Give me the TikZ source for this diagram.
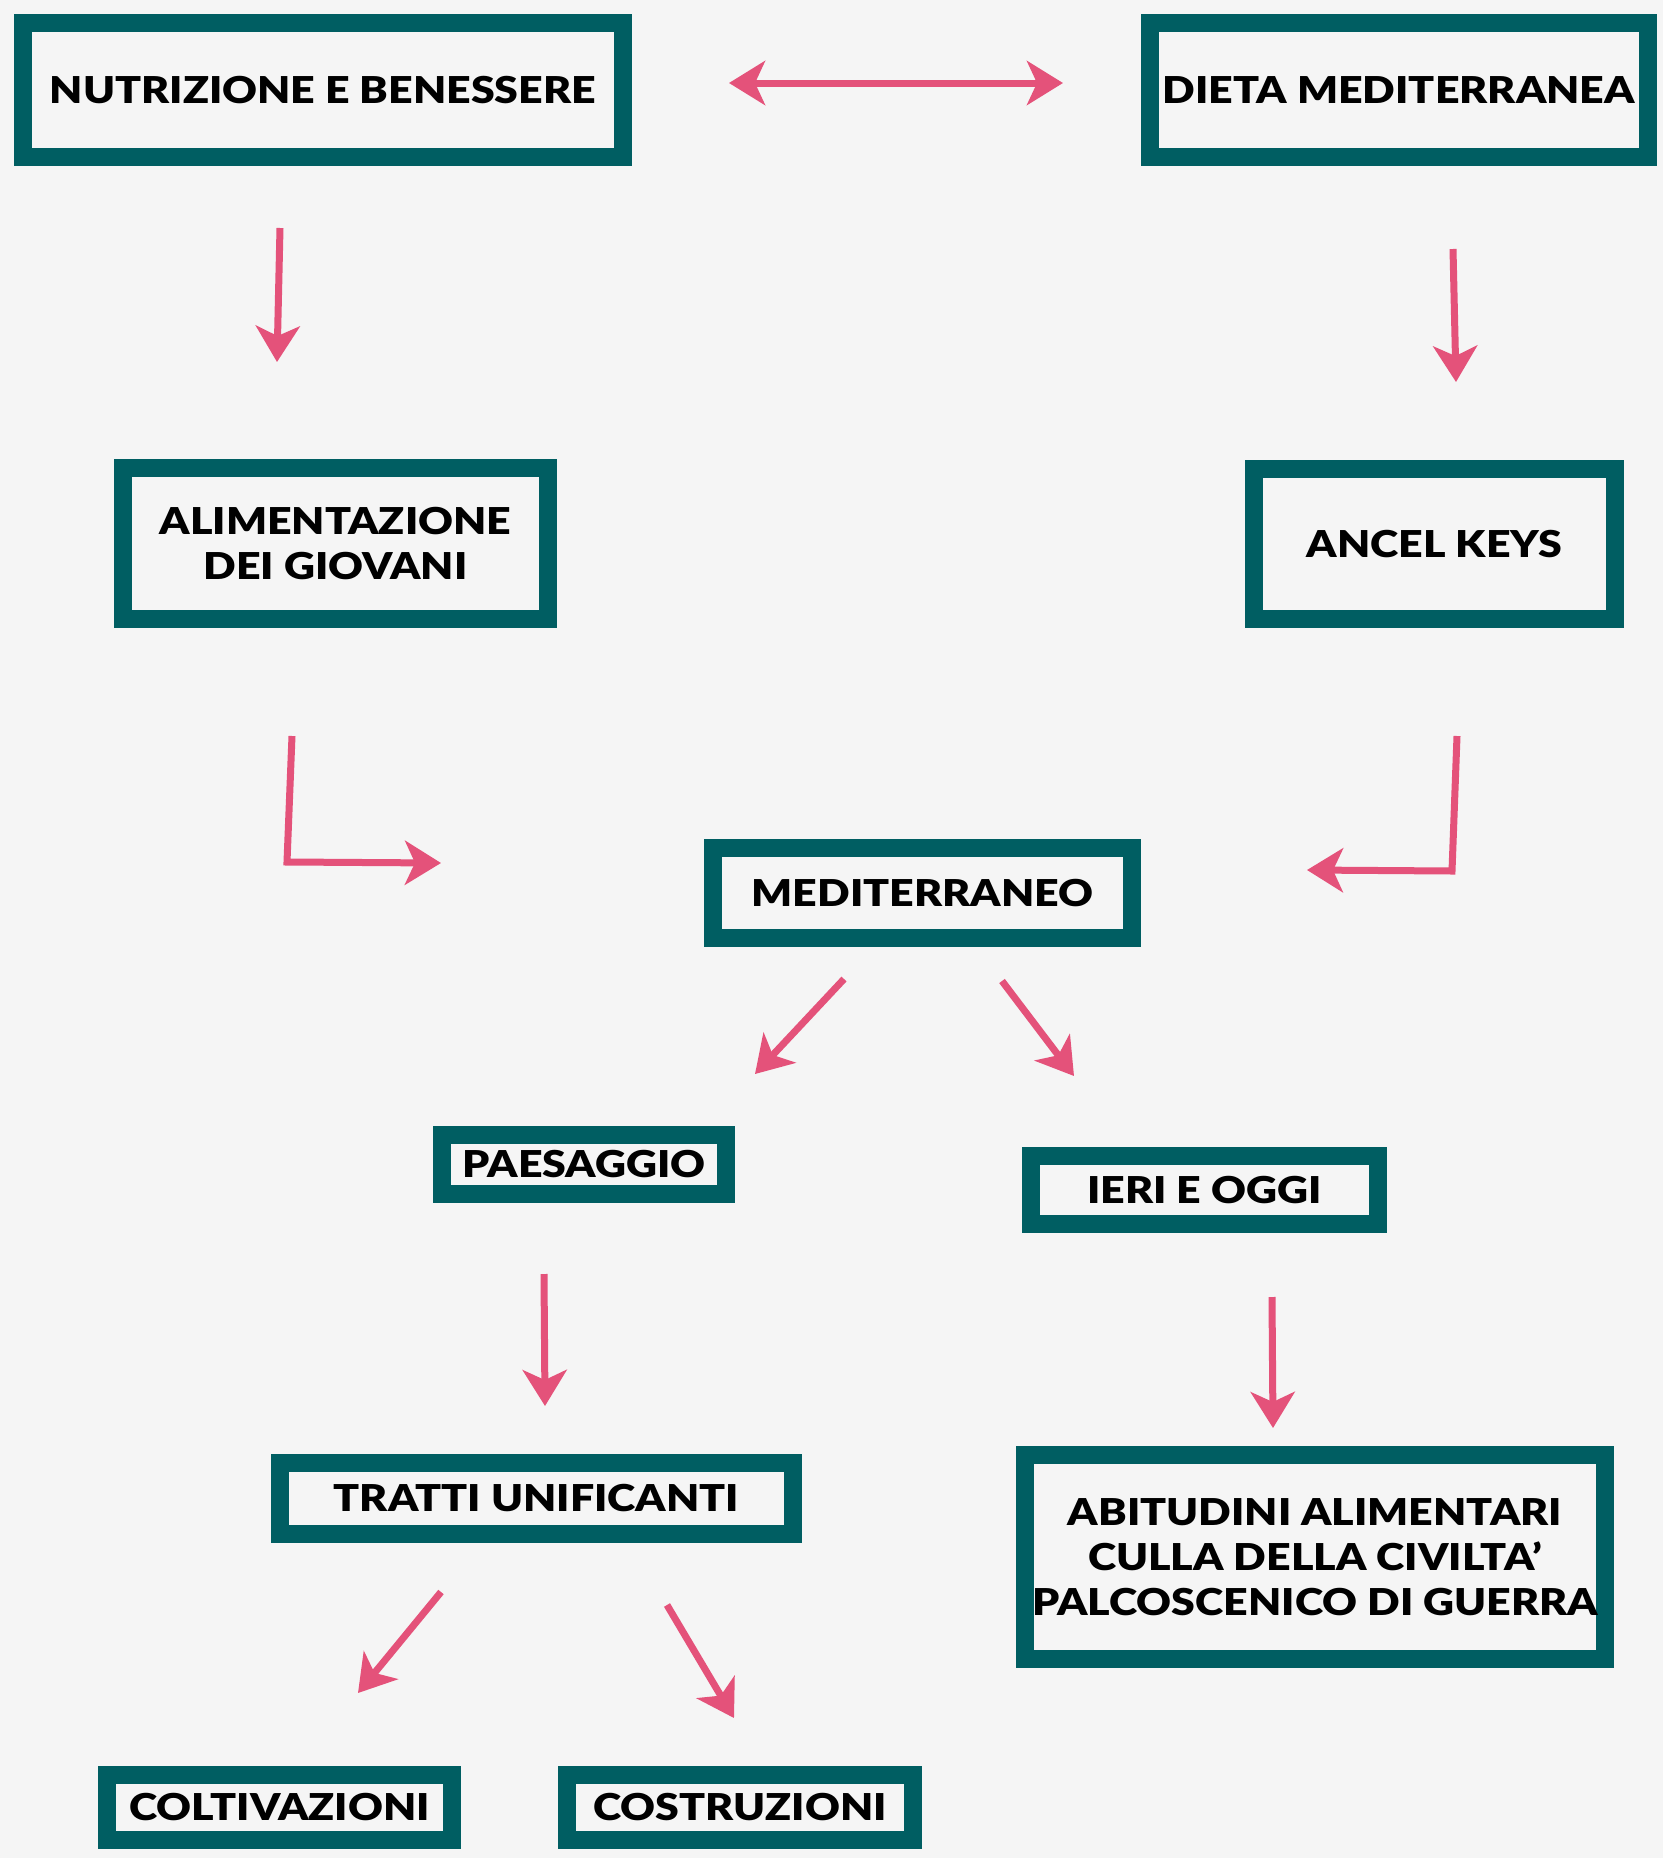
\documentclass[tikz,border=0pt]{standalone}
\usepackage{fontspec}
\setmainfont{Lato}[BoldFont={Lato Black}, BoldFeatures={FakeStretch=1.16}]
\usetikzlibrary{arrows.meta}
\definecolor{teal}{HTML}{005E62}
\definecolor{rosa}{HTML}{E4527A}
\definecolor{bg}{HTML}{F5F5F5}
\begin{document}
\begin{tikzpicture}[x=1pt,y=-1pt,
  box/.style={draw=teal, line width=18pt, fill=bg, inner sep=0pt, align=center,
    font=\fontsize{37}{45}\selectfont\bfseries, text=black},
  arr/.style={draw=rosa, line width=7pt, -{Stealth[length=36pt,width=44pt,inset=10pt]}},
  darr/.style={draw=rosa, line width=7pt, {Stealth[length=36pt,width=44pt,inset=10pt]}-{Stealth[length=36pt,width=44pt,inset=10pt]}}]
\fill[bg] (0,0) rectangle (1663,1858);
\useasboundingbox (0,0) rectangle (1663,1858);
% nodes
\node[box, minimum width=600pt, minimum height=134pt] (nut) at (323,90) {NUTRIZIONE E BENESSERE};
\node[box, minimum width=498pt, minimum height=134pt] (dieta) at (1399,90) {DIETA MEDITERRANEA};
\node[box, minimum width=425pt, minimum height=151pt] (alim) at (335.5,543.5) {ALIMENTAZIONE\\DEI GIOVANI};
\node[box, minimum width=361pt, minimum height=150pt] (ancel) at (1434.5,544) {ANCEL KEYS};
\node[box, minimum width=419pt, minimum height=90pt] (med) at (922.5,893) {MEDITERRANEO};
\node[box, minimum width=284pt, minimum height=59pt] (paes) at (584,1164.5) {PAESAGGIO};
\node[box, minimum width=347pt, minimum height=68pt] (ieri) at (1204.5,1190) {IERI E OGGI};
\node[box, minimum width=513pt, minimum height=71pt] (tratti) at (536.5,1498.5) {TRATTI UNIFICANTI};
\node[box, minimum width=580pt, minimum height=204pt] (abit) at (1315,1557) {ABITUDINI ALIMENTARI\\CULLA DELLA CIVILTA’\\PALCOSCENICO DI GUERRA};
\node[box, minimum width=345pt, minimum height=65pt] (colt) at (279.5,1807.5) {COLTIVAZIONI};
\node[box, minimum width=346pt, minimum height=65pt] (costr) at (740,1807.5) {COSTRUZIONI};
% arrow end coordinates
\coordinate (d1) at (729,83); \coordinate (d2) at (1063,83);
\coordinate (a1s) at (280,228); \coordinate (a1e) at (277,362);
\coordinate (a2s) at (1453,249); \coordinate (a2e) at (1456,382);
\coordinate (l1) at (292,736); \coordinate (l2) at (287,862); \coordinate (l3) at (441,863);
\coordinate (r1) at (1457,736); \coordinate (r2) at (1452,871); \coordinate (r3) at (1307,870);
\coordinate (m1s) at (844,979); \coordinate (m1e) at (755,1074);
\coordinate (m2s) at (1002,981); \coordinate (m2e) at (1074,1076);
\coordinate (p1s) at (544,1274); \coordinate (p1e) at (545,1406);
\coordinate (i1s) at (1272,1297); \coordinate (i1e) at (1273,1428);
\coordinate (t1s) at (441,1592); \coordinate (t1e) at (358,1693);
\coordinate (t2s) at (667,1605); \coordinate (t2e) at (734,1718);
% arrows
\draw[darr] (d1) -- (d2);
\draw[arr] (a1s) -- (a1e);
\draw[arr] (a2s) -- (a2e);
\draw[arr] (l1) -- (l2) -- (l3);
\draw[arr] (r1) -- (r2) -- (r3);
\draw[arr] (m1s) -- (m1e);
\draw[arr] (m2s) -- (m2e);
\draw[arr] (p1s) -- (p1e);
\draw[arr] (i1s) -- (i1e);
\draw[arr] (t1s) -- (t1e);
\draw[arr] (t2s) -- (t2e);
\end{tikzpicture}
\end{document}
